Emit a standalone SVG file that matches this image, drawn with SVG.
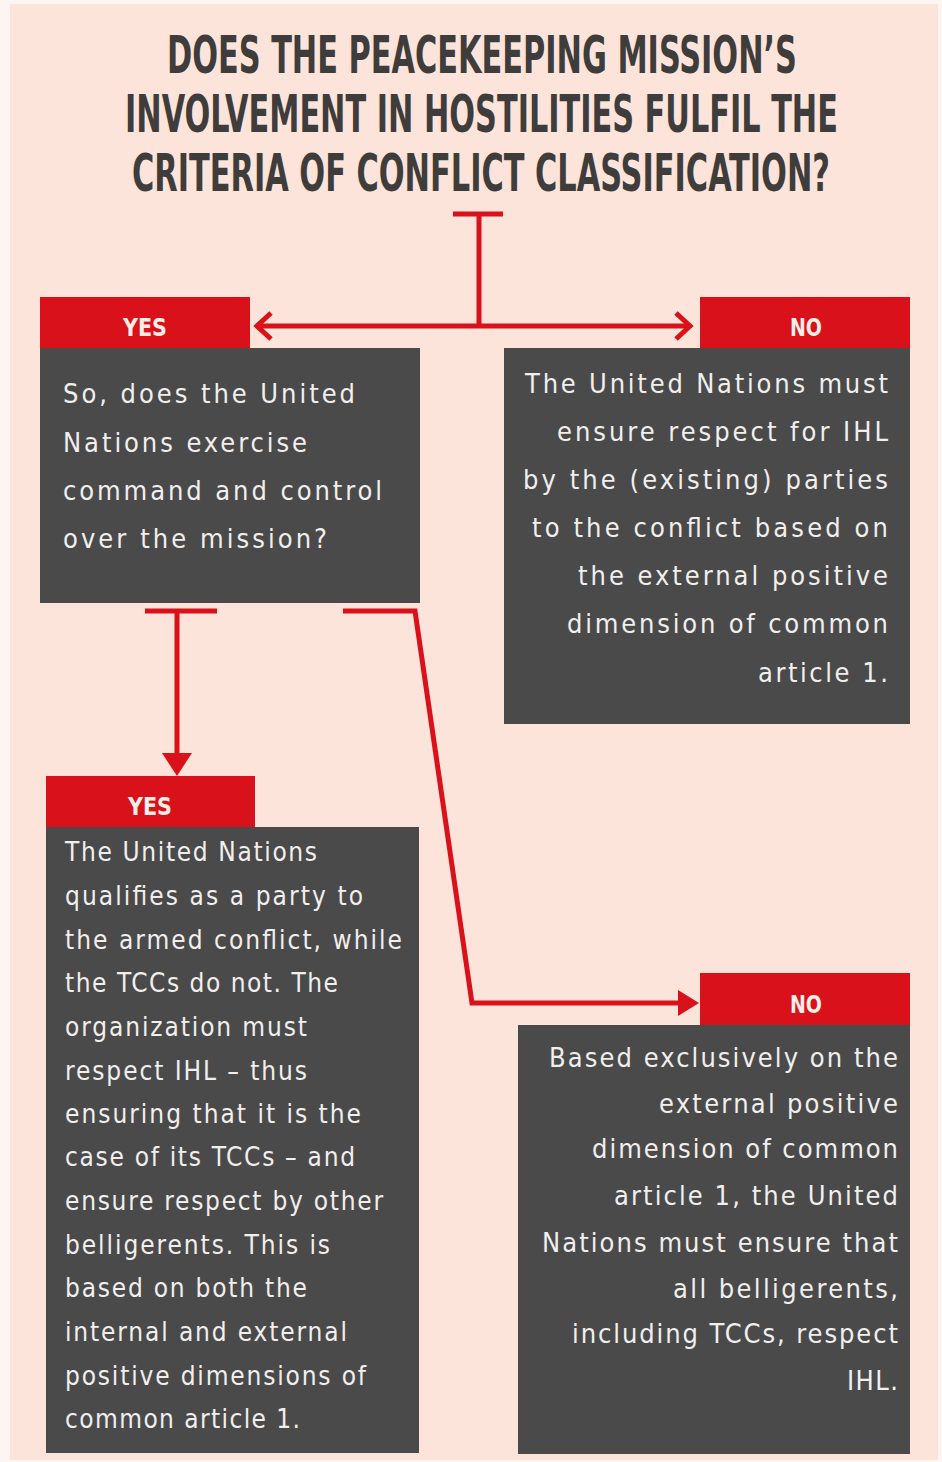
<svg xmlns="http://www.w3.org/2000/svg" width="942" height="1462" viewBox="0 0 942 1462">
<style>
.bg{fill:#fde4da}
.hdr{fill:#d8111b}
.box{fill:#4a4a4a}
.title{font-family:'Liberation Sans Narrow','DejaVu Sans Condensed','Liberation Sans',sans-serif;font-weight:bold;font-size:52px;fill:#3f3d3c}
.lbl{font-family:'Liberation Sans Narrow','DejaVu Sans Condensed','Liberation Sans',sans-serif;font-weight:bold;font-size:25px;fill:#fbeee6}
.t{font-family:'Liberation Sans Narrow','DejaVu Sans Condensed','Liberation Sans',sans-serif;font-size:27px;fill:#f1efee}
.t2{font-family:'Liberation Sans Narrow','DejaVu Sans Condensed','Liberation Sans',sans-serif;font-size:26px;fill:#f1efee}
.ln{stroke:#d8111b;stroke-width:5;fill:none}
.ah{fill:#d8111b}
</style>
<rect x="0" y="0" width="942" height="1462" fill="#fcf5f1"/>
<rect class="bg" x="10" y="4" width="928" height="1456"/>

<g id="title" transform="scale(0.65,1)">
<text class="title" x="256.9" y="73" textLength="969.2" lengthAdjust="spacingAndGlyphs">DOES THE PEACEKEEPING MISSION’S</text>
<text class="title" x="192.3" y="132" textLength="1096.9" lengthAdjust="spacingAndGlyphs">INVOLVEMENT IN HOSTILITIES FULFIL THE</text>
<text class="title" x="203.1" y="191" textLength="1073.8" lengthAdjust="spacingAndGlyphs">CRITERIA OF CONFLICT CLASSIFICATION?</text>
</g>

<g id="connectors">
<path class="ln" d="M453 214 H503 M479 214 V326 M258 326 H690"/>
<path class="ln" d="M271 313 L257 326 L271 339 M676 313 L690 326 L676 339"/>
<path class="ln" d="M145 611 H217 M177 611 V757"/>
<polygon class="ah" points="162,753 192,753 177,776"/>
<path class="ln" d="M343 611 H415 L472 1003 H682"/>
<polygon class="ah" points="678,990 678,1016 699,1003"/>
</g>

<g id="node-question">
<rect class="hdr" x="40" y="297" width="210" height="52"/>
<text class="lbl" x="123" y="336" textLength="44" lengthAdjust="spacingAndGlyphs">YES</text>
<rect class="box" x="40" y="348" width="380" height="255"/>
<text class="t" x="63" y="403" textLength="292">So, does the United</text>
<text class="t" x="63" y="452" textLength="244">Nations exercise</text>
<text class="t" x="63" y="500" textLength="319">command and control</text>
<text class="t" x="63" y="548" textLength="264">over the mission?</text>
</g>

<g id="node-no-top">
<rect class="hdr" x="700" y="297" width="210" height="52"/>
<text class="lbl" x="790" y="336" textLength="32" lengthAdjust="spacingAndGlyphs">NO</text>
<rect class="box" x="504" y="348" width="406" height="376"/>
<text class="t" x="525" y="393" textLength="363">The United Nations must</text>
<text class="t" x="557" y="441" textLength="331">ensure respect for IHL</text>
<text class="t" x="523" y="489" textLength="365">by the (existing) parties</text>
<text class="t" x="532" y="537" textLength="356">to the conflict based on</text>
<text class="t" x="578" y="585" textLength="310">the external positive</text>
<text class="t" x="567" y="633" textLength="321">dimension of common</text>
<text class="t" x="758" y="682" textLength="130">article 1.</text>
</g>

<g id="node-yes-bottom">
<rect class="hdr" x="46" y="776" width="209" height="52"/>
<text class="lbl" x="128" y="815" textLength="44" lengthAdjust="spacingAndGlyphs">YES</text>
<rect class="box" x="46" y="827" width="373" height="626"/>
<text class="t2" x="65" y="861" textLength="252">The United Nations</text>
<text class="t2" x="65" y="905" textLength="298">qualifies as a party to</text>
<text class="t2" x="65" y="949" textLength="337">the armed conflict, while</text>
<text class="t2" x="65" y="992" textLength="273">the TCCs do not. The</text>
<text class="t2" x="65" y="1036" textLength="242">organization must</text>
<text class="t2" x="65" y="1080" textLength="242">respect IHL – thus</text>
<text class="t2" x="65" y="1123" textLength="296">ensuring that it is the</text>
<text class="t2" x="65" y="1166" textLength="290">case of its TCCs – and</text>
<text class="t2" x="65" y="1210" textLength="318">ensure respect by other</text>
<text class="t2" x="65" y="1254" textLength="265">belligerents. This is</text>
<text class="t2" x="65" y="1297" textLength="242">based on both the</text>
<text class="t2" x="65" y="1341" textLength="282">internal and external</text>
<text class="t2" x="65" y="1385" textLength="301">positive dimensions of</text>
<text class="t2" x="65" y="1428" textLength="235">common article 1.</text>
</g>

<g id="node-no-bottom">
<rect class="hdr" x="700" y="973" width="210" height="53"/>
<text class="lbl" x="790" y="1013" textLength="32" lengthAdjust="spacingAndGlyphs">NO</text>
<rect class="box" x="518" y="1025" width="392" height="429"/>
<text class="t" x="549" y="1067" textLength="349">Based exclusively on the</text>
<text class="t" x="659" y="1113" textLength="239">external positive</text>
<text class="t" x="592" y="1158" textLength="306">dimension of common</text>
<text class="t" x="614" y="1205" textLength="284">article 1, the United</text>
<text class="t" x="542" y="1252" textLength="356">Nations must ensure that</text>
<text class="t" x="673" y="1298" textLength="225">all belligerents,</text>
<text class="t" x="572" y="1343" textLength="326">including TCCs, respect</text>
<text class="t" x="847" y="1390" textLength="51">IHL.</text>
</g>
</svg>
